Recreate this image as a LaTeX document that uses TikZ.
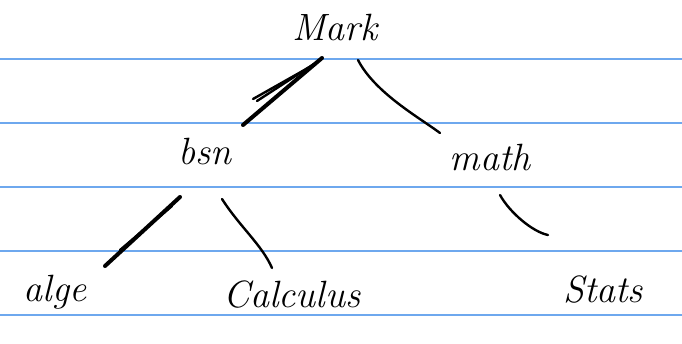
\documentclass[tikz,border=0pt]{standalone}
\usepackage{fontspec}
\begin{document}
\begin{tikzpicture}[x=1pt,y=-1pt,
  rule/.style={draw={rgb,255:red,110;green,168;blue,238},line width=1.2pt},
  word/.style={font=\fontsize{38}{40}\selectfont\itshape,inner sep=0pt,text=black},
  linkedge/.style={draw=black,line width=2.4pt,line cap=round},
  heavyedge/.style={draw=black,line width=4pt,line cap=round}]
\useasboundingbox (0,0) rectangle (682,343);
\fill[white] (0,0) rectangle (682,343);
\foreach \y in {59,123,187,251,315} \draw[rule] (0,\y) -- (682,\y);
\node[word] (mark) at (335,28) {Mark};
\node[word] (bsn) at (205,152) {bsn};
\node[word] (math) at (490,158) {math};
\node[word] (alge) at (55,292) {alge};
\node[word] (calc) at (292,295) {Calculus};
\node[word] (stats) at (603,290) {Stats};
% Mark -> bsn (scribbled double stroke)
\draw[heavyedge] ([shift={(-13,30)}]mark.center) -- ([shift={(38,-27)}]bsn.center);
\draw[linkedge] ([shift={(-18,34)}]mark.center) -- ([shift={(52,-51)}]bsn.center);
\draw[linkedge] ([shift={(-20,36)}]mark.center) -- ([shift={(48,-53)}]bsn.center);
% Mark -> math
\draw[linkedge] ([shift={(23,32)}]mark.center) .. controls ([shift={(40,65)}]mark.center) and ([shift={(-70,-40)}]math.center) .. ([shift={(-50,-25)}]math.center);
% bsn -> alge (scribbled)
\draw[heavyedge] ([shift={(-25,45)}]bsn.center) -- ([shift={(50,-26)}]alge.center);
\draw[linkedge] ([shift={(-33,54)}]bsn.center) -- ([shift={(65,-42)}]alge.center);
% bsn -> Calculus
\draw[linkedge] ([shift={(17,47)}]bsn.center) .. controls ([shift={(35,75)}]bsn.center) and ([shift={(-30,-50)}]calc.center) .. ([shift={(-20,-27)}]calc.center);
% math -> Stats
\draw[linkedge] ([shift={(10,37)}]math.center) .. controls ([shift={(20,55)}]math.center) and ([shift={(-70,-58)}]stats.center) .. ([shift={(-55,-55)}]stats.center);
\end{tikzpicture}
\end{document}
